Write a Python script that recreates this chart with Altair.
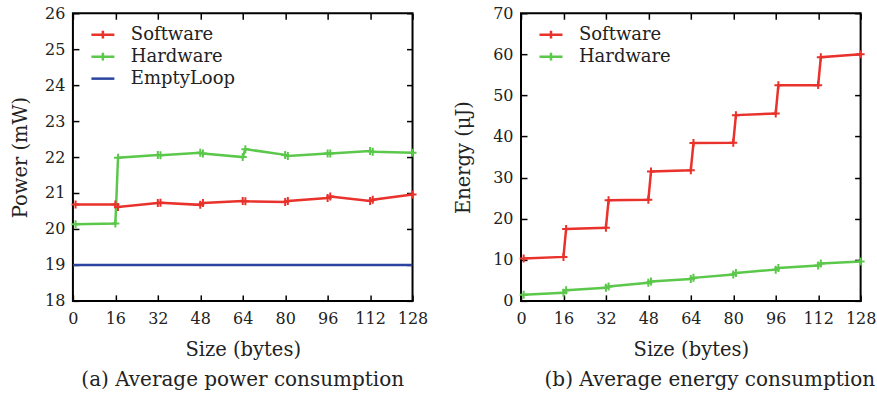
import altair as alt
import pandas as pd

sizes = [1, 16, 17, 32, 33, 48, 49, 64, 65, 80, 81, 96, 97, 112, 113, 128]
power_software = [20.68, 20.68, 20.61, 20.72, 20.73, 20.67, 20.72, 20.78, 20.77,
                  20.75, 20.78, 20.86, 20.90, 20.78, 20.81, 20.96]
power_hardware = [20.13, 20.15, 21.98, 22.06, 22.05, 22.12, 22.10, 22.00, 22.22,
                  22.06, 22.03, 22.10, 22.10, 22.17, 22.15, 22.12]
empty_sizes = [0, 128]
power_empty = [19.0, 19.0]
energy_software = [10.3, 10.7, 17.5, 17.8, 24.5, 24.6, 31.5, 31.8, 38.4, 38.5,
                   45.2, 45.6, 52.5, 52.5, 59.3, 60.0]
energy_hardware = [1.5, 2.0, 2.6, 3.2, 3.5, 4.4, 4.7, 5.3, 5.6, 6.4, 6.8, 7.6,
                   8.0, 8.6, 9.1, 9.6]

x_ticks = [0, 16, 32, 48, 64, 80, 96, 112, 128]
power_ticks = [18, 19, 20, 21, 22, 23, 24, 25, 26]
energy_ticks = [0, 10, 20, 30, 40, 50, 60, 70]

series_names = ["Software", "Hardware", "EmptyLoop"]
series_colors = ["#e8322b", "#5bc84b", "#2b44a0"]

FONT = "DejaVu Serif"
TEXT = "#222222"
CROSS = "M-1,0H1M0,-1V1"
LEG_CROSS = "M-1,0H1M0,-0.34V0.34"
LEG_LINE = "M-1,0H1"
legend_shapes = [LEG_CROSS, LEG_CROSS, LEG_LINE]

W, H = 340, 288


def long_df(xs, ys, name):
    return pd.DataFrame({"size": xs, "value": ys, "series": [name] * len(xs)})


def panel(df, ydomain, yticks, ytitle, ytitle_x, caption, names, caption_dx):
    n = len(names)
    xscale = alt.Scale(domain=[0, 128], nice=False, zero=False)
    yscale = alt.Scale(domain=ydomain, nice=False, zero=False)
    cscale = alt.Scale(domain=names, range=series_colors[:n])
    sscale = alt.Scale(domain=names, range=legend_shapes[:n])

    xaxis = alt.Axis(orient="bottom", values=x_ticks, title="Size (bytes)", offset=-6,
                     tickSize=6, labelPadding=10, titleY=55, titleBaseline="middle",
                     labelFlush=False, labelOverlap=False, domain=False, grid=False)
    yaxis = alt.Axis(orient="left", values=yticks, title=ytitle, offset=-6, tickSize=6,
                     labelPadding=8, titleX=ytitle_x, titleBaseline="middle",
                     labelFlush=False, labelOverlap=False,
                     titleAngle=-90, domain=False, grid=False)

    legend = alt.Legend(
        title=None, orient="none", legendX=17, legendY=8.5, padding=0,
        symbolSize=529, symbolStrokeWidth=2.5, labelOffset=15, rowPadding=0,
        labelFont=FONT, labelFontSize=18, labelColor=TEXT, labelLimit=300,
    )
    legend_layer = alt.Chart(df).transform_filter("false").mark_point(
        filled=False, strokeWidth=2.5, size=529, opacity=1
    ).encode(
        x=alt.X("size:Q", scale=xscale, axis=xaxis),
        y=alt.Y("value:Q", scale=yscale, axis=yaxis),
        color=alt.Color("series:N", scale=cscale, legend=legend),
        shape=alt.Shape("series:N", scale=sscale, legend=legend),
    )

    line = alt.Chart(df).mark_line(strokeWidth=2.5, clip=True).encode(
        x=alt.X("size:Q", scale=xscale, axis=None),
        y=alt.Y("value:Q", scale=yscale, axis=None),
        color=alt.Color("series:N", scale=cscale, legend=None),
        detail="series:N",
    )

    points = alt.Chart(df).transform_filter(
        alt.datum.series != "EmptyLoop"
    ).mark_point(shape=CROSS, size=64, filled=False, strokeWidth=2, opacity=1).encode(
        x=alt.X("size:Q", scale=xscale, axis=None),
        y=alt.Y("value:Q", scale=yscale, axis=None),
        color=alt.Color("series:N", scale=cscale, legend=None),
    )

    frame = alt.Chart(df).mark_point(opacity=0).encode(
        x=alt.X("size:Q", scale=xscale,
                axis=alt.Axis(orient="top", values=x_ticks, labels=False, title=None,
                              offset=-6, tickSize=6, domain=False, grid=False)),
        y=alt.Y("value:Q", scale=yscale,
                axis=alt.Axis(orient="right", values=yticks, labels=False, title=None,
                              offset=-6, tickSize=6, domain=False, grid=False)),
    )

    return alt.layer(legend_layer, line, points, frame).resolve_axis(
        x="independent", y="independent"
    ).properties(
        width=W, height=H,
        title=alt.TitleParams(caption, orient="bottom", anchor="middle", dx=caption_dx,
                              offset=11, font=FONT, fontSize=20, fontWeight="normal",
                              color=TEXT),
    )


power_df = pd.concat([
    long_df(sizes, power_software, "Software"),
    long_df(sizes, power_hardware, "Hardware"),
    long_df(empty_sizes, power_empty, "EmptyLoop"),
], ignore_index=True)

energy_df = pd.concat([
    long_df(sizes, energy_software, "Software"),
    long_df(sizes, energy_hardware, "Hardware"),
], ignore_index=True)

left = panel(power_df, [18, 26], power_ticks, "Power (mW)", -58,
             "(a) Average power consumption", series_names, 0)
right = panel(energy_df, [0, 70], energy_ticks, "Energy (μJ)", -64,
              "(b) Average energy consumption", series_names[:2], 19)

chart = alt.hconcat(left, right, spacing=108.6, bounds="flush").resolve_scale(
    color="independent", shape="independent"
).resolve_legend(
    color="independent", shape="independent"
).properties(
    padding={"left": 10, "top": 4, "right": 0, "bottom": 0},
    background="white",
).configure_view(
    stroke="black", strokeWidth=2
).configure_axis(
    labelFont=FONT, labelFontSize=16, labelColor=TEXT,
    titleFont=FONT, titleFontSize=19.5, titleFontWeight="normal", titleColor=TEXT,
    tickColor="black", tickWidth=1.5,
).configure_legend(
    labelFont=FONT, labelFontSize=18, labelColor=TEXT, labelLimit=300,
)

chart.save("out.html", embed_options={"renderer": "svg", "actions": False})
